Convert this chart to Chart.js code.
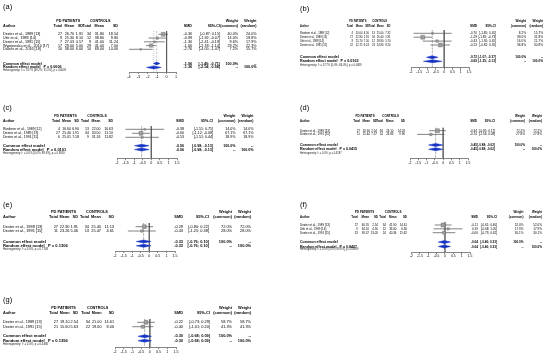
<!DOCTYPE html>
<html>
<head>
<meta charset="utf-8">
<script src="https://cdn.jsdelivr.net/npm/chart.js@4.4.1/dist/chart.umd.min.js"></script>
<style>
  html, body { margin: 0; padding: 0; background: #fff; }
  #wrap { position: relative; width: 550px; height: 356px; overflow: hidden; }
  canvas { position: absolute; }
</style>
</head>
<body>
<div id="wrap">
  <canvas id="pa" width="275" height="90" style="left:0;top:0"></canvas>
  <canvas id="pb" width="275" height="90" style="left:275px;top:0"></canvas>
  <canvas id="pc" width="275" height="90" style="left:0;top:90px"></canvas>
  <canvas id="pd" width="275" height="90" style="left:275px;top:90px"></canvas>
  <canvas id="pe" width="275" height="90" style="left:0;top:180px"></canvas>
  <canvas id="pf" width="275" height="90" style="left:275px;top:180px"></canvas>
  <canvas id="pg" width="275" height="86" style="left:0;top:270px"></canvas>
</div>
<script>
// (a)
var authorsA = ["Dexter et al., 1989 [13]", "Uitti et al., 1989 [14]", "Dexter et al., 1991 [15]", "Wypijewska et al., 2010 [17]", "Davies et al., 2016 [18]"];
var pdA = [[27, 26.70, 1.91], [9, 25.30, 8.10], [7, 27.03, 4.57], [17, 29.00, 5.00], [10, 38.00, 6.00]];
var ctrlA = [[34, 31.80, 18.54], [12, 38.80, 9.90], [9, 41.60, 11.24], [29, 41.00, 7.00], [10, 69.00, 14.00]];
var smdA = [[-0.36, -0.87, 0.15], [-0.99, -1.92, -0.07], [-1.30, -2.41, -0.19], [-1.66, -2.18, -1.14], [-2.76, -4.05, -1.47]];
var weightA = [[40.0, 24.0], [14.0, 19.8], [9.6, 17.9], [29.2, 22.3], [7.2, 15.7]];
var pooledA = [[-1.06, -1.40, -0.71], [-1.36, -2.14, -0.58]];
var pValA = "0.0006";
var hetA = "I\u00b2 = 78.7% [49.2%; 91.1%], p = 0.0009";
var ticksA = [-4, -3, -2, -1, 0, 1];

// (b)
var authorsB = ["Riederer et al., 1989 [12]", "Dexter et al., 1989 [13]", "Uitti et al., 1989 [14]", "Dexter et al., 1991 [15]"];
var pdB = [[4, 20.00, 4.50], [27, 22.90, 1.91], [9, 25.70, 7.50], [22, 22.75, 6.24]];
var ctrlB = [[13, 25.00, 7.32], [34, 26.40, 1.91], [12, 28.90, 5.70], [23, 24.90, 9.24]];
var smdB = [[-0.70, -1.85, 0.45], [-1.29, -1.85, -0.73], [-0.43, -1.30, 0.45], [-0.23, -0.82, 0.35]];
var weightB = [[8.2, 15.7], [39.0, 31.8], [16.0, 21.7], [36.8, 30.8]];
var pooledB = [[-0.72, -1.07, -0.37], [-0.69, -1.25, -0.13]];
var pValB = "0.0163";
var hetB = "I\u00b2 = 57.7% [0.0%; 86.0%], p = 0.0689";
var ticksB = [-2, -1.5, -1, -0.5, 0, 0.5, 1, 1.5];

// (c)
var authorsC = ["Riederer et al., 1989 [12]", "Dexter et al., 1989 [13]", "Dexter et al., 1991 [15]"];
var pdC = [[4, 16.60, 6.90], [27, 25.40, 1.91], [6, 25.01, 7.18]];
var ctrlC = [[13, 22.00, 10.63], [34, 30.50, 11.10], [9, 31.16, 11.82]];
var smdC = [[-0.38, -1.51, 0.75], [-0.60, -1.12, -0.08], [-0.53, -1.51, 0.44]];
var weightC = [[14.0, 14.0], [67.1, 67.1], [18.9, 18.9]];
var pooledC = [[-0.56, -0.98, -0.13], [-0.56, -0.98, -0.13]];
var pValC = "0.0101";
var hetC = "I\u00b2 = 0.0% [0.0%; 89.6%], p = 0.9050";
var ticksC = [-2, -1.5, -1, -0.5, 0, 0.5, 1, 1.5];

// (d)
var authorsD = ["Dexter et al., 1989 [13]", "Dexter et al., 1991 [15]"];
var pdD = [[27, 20.30, 2.54], [11, 15.44, 7.57]];
var ctrlD = [[34, 24.10, 14.03], [14, 24.83, 9.96]];
var smdD = [[-0.34, -0.85, 0.17], [-0.74, -1.56, 0.08]];
var weightD = [[72.2, 72.2], [27.8, 27.8]];
var pooledD = [[-0.45, -0.88, -0.02], [-0.45, -0.88, -0.02]];
var pValD = "0.0415";
var hetD = "I\u00b2 = 0.0%, p = 0.4187";
var ticksD = [-2, -1.5, -1, -0.5, 0, 0.5, 1, 1.5];

// (e)
var authorsE = ["Dexter et al., 1989 [13]", "Dexter et al., 1991 [15]"];
var pdE = [[27, 22.90, 1.91], [11, 23.26, 5.06]];
var ctrlE = [[34, 25.40, 11.13], [13, 25.47, 4.61]];
var smdE = [[-0.29, -0.80, 0.22], [-0.43, -1.25, 0.38]];
var weightE = [[72.0, 72.0], [28.0, 28.0]];
var pooledE = [[-0.33, -0.76, 0.10], [-0.33, -0.76, 0.10]];
var pValE = "0.1306";
var hetE = "I\u00b2 = 0.0%, p = 0.7748";
var ticksE = [-2, -1.5, -1, -0.5, 0, 0.5, 1, 1.5];

// (f)
var authorsF = ["Dexter et al., 1989 [13]", "Uitti et al., 1989 [14]", "Dexter et al., 1991 [15]"];
var pdF = [[27, 40.70, 2.54], [9, 34.10, 4.50], [13, 39.37, 13.05]];
var ctrlF = [[34, 41.90, 14.61], [12, 33.00, 6.30], [24, 40.34, 15.62]];
var smdF = [[-0.11, -0.61, 0.40], [0.19, -0.68, 1.05], [-0.06, -0.73, 0.62]];
var weightF = [[52.0, 52.0], [17.9, 17.9], [30.1, 30.1]];
var pooledF = [[-0.04, -0.40, 0.33], [-0.04, -0.40, 0.33]];
var pValF = "0.8407";
var hetF = "I\u00b2 = 0.0% [0.0%; 89.6%], p = 0.8469";
var ticksF = [-2, -1.5, -1, -0.5, 0, 0.5, 1, 1.5];

// (g)
var authorsG = ["Dexter et al., 1989 [13]", "Dexter et al., 1991 [15]"];
var pdG = [[27, 19.10, 2.54], [21, 15.60, 5.63]];
var ctrlG = [[34, 21.00, 14.61], [22, 19.60, 8.06]];
var smdG = [[-0.22, -0.73, 0.29], [-0.40, -1.01, 0.20]];
var weightG = [[58.7, 58.7], [41.3, 41.3]];
var pooledG = [[-0.30, -0.68, 0.09], [-0.30, -0.68, 0.09]];
var pValG = "0.1356";
var hetG = "I\u00b2 = 0.0%, p = 0.6486";
var ticksG = [-2, -1.5, -1, -0.5, 0, 0.5, 1, 1.5];

// layout of each panel, in canvas pixels
var layoutA = { label: [3, 7], h1: 20.7, h2: 25.7, firstY: 34.3, rowPx: 3.75, commonY: 63.5, randomY: 67.4, hetY: 70.6, topY: 31, axisY: 72,
  xMin: 129, xMax: 176, fs: 3.7, sxT: 1, sxR: 1, sxP: 1, tickFs: 3.7,
  cols: { author: 3, pd: [62, 74, 83], ctrl: [91, 104, 118], smd: 192, ci: 220, w: [238, 256.5] } };
var layoutB = { label: [25, 8.5], h1: 20.7, h2: 25.7, firstY: 33.3, rowPx: 3.9, commonY: 57.3, randomY: 61.3, hetY: 65.3, topY: 30, axisY: 67.8,
  xMin: 136, xMax: 194, fs: 3.7, sxT: 0.72, sxR: 0.85, sxP: 1, tickFs: 3.4,
  cols: { author: 25, pd: [78, 87.5, 94], ctrl: [100, 108.5, 115.5], smd: 202, ci: 221, w: [251, 268] } };
var layoutC = { label: [3, 18], h1: 26, h2: 31, firstY: 39.3, rowPx: 4, commonY: 55.7, randomY: 59.5, hetY: 63.3, topY: 36, axisY: 68.3,
  xMin: 117, xMax: 177, fs: 3.8, sxT: 0.92, sxR: 0.95, sxP: 1.05, tickFs: 3.6,
  cols: { author: 3, pd: [60, 71, 79], ctrl: [89, 100.5, 113], smd: 184, ci: 213, w: [235.5, 253.5] } };
var layoutD = { label: [25, 17.7], h1: 26, h2: 31, firstY: 40.7, rowPx: 3.7, commonY: 55, randomY: 59.3, hetY: 63.3, topY: 37.5, axisY: 68.3,
  xMin: 135, xMax: 193, fs: 3.6, sxT: 0.82, sxR: 0.85, sxP: 1, tickFs: 3.4,
  cols: { author: 25, pd: [85, 95, 102], ctrl: [108, 118.5, 130], smd: 202, ci: 220, w: [250, 267] } };
var layoutE = { label: [3, 25], h1: 32.3, h2: 37.3, firstY: 46.7, rowPx: 4.3, commonY: 61.5, randomY: 65.8, hetY: 69.7, topY: 43, axisY: 71,
  xMin: 115, xMax: 175, fs: 3.9, sxT: 1, sxR: 1, sxP: 1.05, tickFs: 3.6,
  cols: { author: 3, pd: [58, 69.5, 78], ctrl: [89, 101, 114], smd: 183, ci: 209, w: [232, 251] } };
var layoutF = { label: [25, 25], h1: 32.3, h2: 37.3, firstY: 45, rowPx: 3.85, commonY: 62, randomY: 66.5, hetY: 69.7, topY: 42, axisY: 72,
  xMin: 136.5, xMax: 195, fs: 3.6, sxT: 0.82, sxR: 0.85, sxP: 1, tickFs: 3.4,
  cols: { author: 25, pd: [83, 94, 103], ctrl: [111, 121.5, 132], smd: 203, ci: 222, w: [248.5, 267] } };
var layoutG = { label: [3, 30], h1: 37.7, h2: 42.7, firstY: 52.3, rowPx: 4.4, commonY: 66.3, randomY: 70.7, hetY: 74.7, topY: 49, axisY: 77.2,
  xMin: 115, xMax: 176, fs: 3.9, sxT: 0.98, sxR: 1, sxP: 1.05, tickFs: 3.6,
  cols: { author: 3, pd: [58, 69.5, 78], ctrl: [90, 101.5, 114], smd: 183, ci: 210, w: [232, 251] } };

var FONT = "'Liberation Sans', Arial, Helvetica, sans-serif";
var BLUE = '#1733c4';
Chart.defaults.font.family = FONT;

function fmt(v) { return v.toFixed(2); }

// text with horizontal squeeze
function tx(ctx, s, x, y, align, sx) {
  ctx.save();
  ctx.translate(x, y);
  ctx.scale(sx, 1);
  ctx.textAlign = align;
  ctx.fillText(s, 0, 0);
  ctx.restore();
}

function tablePlugin(d, L) {
  return {
    id: 'forestTable',
    afterDraw: function (chart) {
      var ctx = chart.ctx, y = chart.scales.y, c = L.cols;
      var reg = L.fs + 'px ' + FONT;
      var bold = 'bold ' + reg;
      ctx.save();
      ctx.fillStyle = '#000';
      ctx.textBaseline = 'middle';

      ctx.font = '7.5px ' + FONT;
      tx(ctx, '(' + d.id + ')', L.label[0], L.label[1], 'left', 1);

      // headers
      ctx.font = bold;
      [['PD PATIENTS', c.pd], ['CONTROLS', c.ctrl]].forEach(function (b) {
        var left = b[1][0] - ctx.measureText('Total').width * L.sxT;
        tx(ctx, b[0], (left + b[1][2]) / 2, L.h1, 'center', L.sxT);
      });
      tx(ctx, 'Weight', c.w[0], L.h1, 'right', L.sxR);
      tx(ctx, 'Weight', c.w[1], L.h1, 'right', L.sxR);
      tx(ctx, 'Author', c.author, L.h2, 'left', L.sxT);
      [c.pd, c.ctrl].forEach(function (cols) {
        ['Total', 'Mean', 'SD'].forEach(function (h, k) { tx(ctx, h, cols[k], L.h2, 'right', L.sxT); });
      });
      tx(ctx, 'SMD', c.smd, L.h2, 'right', L.sxR);
      tx(ctx, '95%-CI', c.ci, L.h2, 'right', L.sxR);
      tx(ctx, '(common)', c.w[0], L.h2, 'right', L.sxR);
      tx(ctx, '(random)', c.w[1], L.h2, 'right', L.sxR);

      // study rows
      ctx.font = reg;
      d.authors.forEach(function (name, i) {
        var py = y.getPixelForValue(i);
        tx(ctx, name, c.author, py, 'left', L.sxT);
        [d.pd[i], d.ctrl[i]].forEach(function (g, j) {
          var cols = j ? c.ctrl : c.pd;
          tx(ctx, String(g[0]), cols[0], py, 'right', L.sxT);
          tx(ctx, fmt(g[1]), cols[1], py, 'right', L.sxT);
          tx(ctx, fmt(g[2]), cols[2], py, 'right', L.sxT);
        });
        var s = d.smd[i];
        tx(ctx, fmt(s[0]), c.smd, py, 'right', L.sxR);
        tx(ctx, '[' + fmt(s[1]) + '; ' + fmt(s[2]) + ']', c.ci, py, 'right', L.sxR);
        tx(ctx, d.weight[i][0].toFixed(1) + '%', c.w[0], py, 'right', L.sxR);
        tx(ctx, d.weight[i][1].toFixed(1) + '%', c.w[1], py, 'right', L.sxR);
      });

      // pooled rows
      ctx.font = bold;
      var names = ['Common effect model', 'Random effect model   P = ' + d.p];
      d.pooled.forEach(function (e, k) {
        var py = y.getPixelForValue(d.rows[k]);
        tx(ctx, names[k], c.author, py, 'left', L.sxP);
        tx(ctx, fmt(e[0]), c.smd, py, 'right', L.sxR);
        tx(ctx, '[' + fmt(e[1]) + '; ' + fmt(e[2]) + ']', c.ci, py, 'right', L.sxR);
        tx(ctx, k ? '--' : '100.0%', c.w[0], py, 'right', L.sxR);
        tx(ctx, k ? '100.0%' : '--', c.w[1], py, 'right', L.sxR);
      });

      ctx.font = (L.fs * 0.72).toFixed(2) + 'px ' + FONT;
      ctx.fillStyle = '#222';
      tx(ctx, 'Heterogeneity: ' + d.het, c.author, L.hetY, 'left', 1);
      ctx.restore();
    }
  };
}

function seg(points, color, width, dash, order) {
  return { data: points, showLine: true, borderColor: color, borderWidth: width, borderDash: dash,
    pointRadius: 0, fill: false, order: order };
}

function makePanel(canvasId, d, L) {
  var canvas = document.getElementById(canvasId);
  var W = canvas.width, H = canvas.height;
  var row = function (px) { return (px - L.firstY) / L.rowPx; };
  var yMin = row(L.topY), yMax = row(L.axisY);
  d.rows = [row(L.commonY), row(L.randomY)];
  var half = 1.5 / L.rowPx;
  var wMax = Math.max.apply(null, d.weight.map(function (w) { return w[0]; }));

  var ds = [];
  // study squares sized by common-effect weight
  ds.push({
    data: d.smd.map(function (s, i) { return { x: s[0], y: i }; }),
    pointStyle: 'rect',
    pointRadius: d.weight.map(function (w) { return Math.max(0.9, 2.8 * Math.sqrt(w[0] / wMax)); }),
    backgroundColor: '#9d9d9d', borderColor: '#6a6a6a', borderWidth: 0.4, order: 0
  });
  // confidence intervals
  d.smd.forEach(function (s, i) {
    ds.push(seg([{ x: s[1], y: i }, { x: s[2], y: i }], '#4d4d4d', 0.7, [], 1));
  });
  // diamonds and pooled-effect lines
  d.pooled.forEach(function (e, k) {
    var r = d.rows[k];
    ds.push({
      data: [{ x: e[1], y: r }, { x: e[0], y: r - half }, { x: e[2], y: r }, { x: e[0], y: r + half }, { x: e[1], y: r }],
      showLine: true, fill: 'shape', backgroundColor: BLUE, borderColor: BLUE, borderWidth: 0.5,
      pointRadius: 0, order: 2
    });
    ds.push(seg([{ x: e[0], y: yMin }, { x: e[0], y: yMax }], '#9a9a9a', 0.6, k ? [1, 1] : [2, 1.5], 3));
  });
  // line of no effect
  ds.push(seg([{ x: 0, y: yMin }, { x: 0, y: yMax }], '#555', 0.7, [], 3));

  new Chart(canvas, {
    type: 'scatter',
    data: { datasets: ds },
    options: {
      responsive: false,
      animation: false,
      events: [],
      layout: { padding: { left: L.xMin, right: W - L.xMax, top: L.topY, bottom: H - 8 - L.axisY } },
      plugins: { legend: { display: false }, tooltip: { enabled: false } },
      scales: {
        x: {
          type: 'linear',
          min: d.ticks[0],
          max: d.ticks[d.ticks.length - 1],
          afterBuildTicks: function (s) { s.ticks = d.ticks.map(function (v) { return { value: v }; }); },
          afterFit: function (s) { s.height = 8; },
          grid: { drawOnChartArea: false, drawTicks: true, tickLength: 2, color: '#333', lineWidth: 0.6 },
          border: { display: true, color: '#333', width: 0.6 },
          ticks: { autoSkip: false, maxRotation: 0, minRotation: 0, padding: 0.5, color: '#000',
            font: { size: L.tickFs }, callback: function (v) { return String(v); } }
        },
        y: { type: 'linear', display: false, reverse: true, min: yMin, max: yMax }
      }
    },
    plugins: [tablePlugin(d, L)]
  });
}

makePanel('pa', { id: 'a', authors: authorsA, pd: pdA, ctrl: ctrlA, smd: smdA, weight: weightA, pooled: pooledA, p: pValA, het: hetA, ticks: ticksA }, layoutA);
makePanel('pb', { id: 'b', authors: authorsB, pd: pdB, ctrl: ctrlB, smd: smdB, weight: weightB, pooled: pooledB, p: pValB, het: hetB, ticks: ticksB }, layoutB);
makePanel('pc', { id: 'c', authors: authorsC, pd: pdC, ctrl: ctrlC, smd: smdC, weight: weightC, pooled: pooledC, p: pValC, het: hetC, ticks: ticksC }, layoutC);
makePanel('pd', { id: 'd', authors: authorsD, pd: pdD, ctrl: ctrlD, smd: smdD, weight: weightD, pooled: pooledD, p: pValD, het: hetD, ticks: ticksD }, layoutD);
makePanel('pe', { id: 'e', authors: authorsE, pd: pdE, ctrl: ctrlE, smd: smdE, weight: weightE, pooled: pooledE, p: pValE, het: hetE, ticks: ticksE }, layoutE);
makePanel('pf', { id: 'f', authors: authorsF, pd: pdF, ctrl: ctrlF, smd: smdF, weight: weightF, pooled: pooledF, p: pValF, het: hetF, ticks: ticksF }, layoutF);
makePanel('pg', { id: 'g', authors: authorsG, pd: pdG, ctrl: ctrlG, smd: smdG, weight: weightG, pooled: pooledG, p: pValG, het: hetG, ticks: ticksG }, layoutG);
</script>
</body>
</html>
